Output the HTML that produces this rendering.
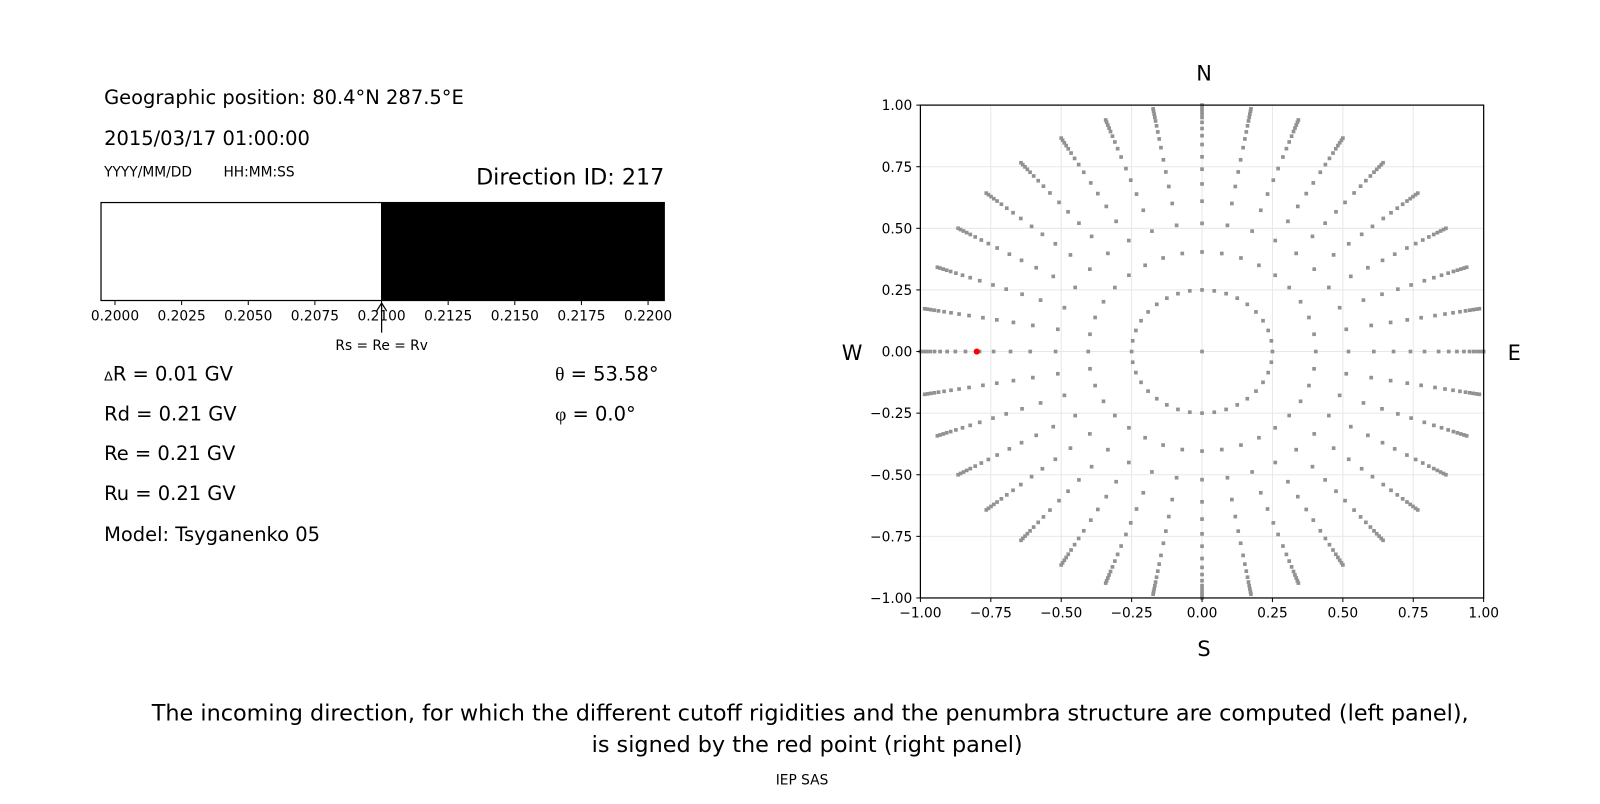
<!DOCTYPE html>
<html><head><meta charset="utf-8"><style>
body{margin:0;background:#fff;width:1600px;height:800px;overflow:hidden;font-family:"DejaVu Sans","Liberation Sans",sans-serif}
svg text{font-family:"DejaVu Sans","Liberation Sans",sans-serif}
</style></head><body>
<svg id="s" width="1600" height="800" xmlns="http://www.w3.org/2000/svg">
<rect width="1600" height="800" fill="#fff"/>
<g transform="scale(1.0204)">
<text x="102" y="102" font-size="19.1">Geographic position: 80.4°N 287.5°E</text>
<text x="102" y="142" font-size="19.1">2015/03/17 01:00:00</text>
<text x="102" y="173" font-size="13.5">YYYY/MM/DD</text>
<text x="219" y="173" font-size="13.5">HH:MM:SS</text>
<text x="651" y="181" font-size="21.8" text-anchor="end">Direction ID: 217</text>
<rect x="99" y="198.5" width="275" height="96" fill="#fff" stroke="#000" stroke-width="1.2"/>
<rect x="374" y="198.5" width="277" height="96" fill="#000" stroke="#000" stroke-width="1.2"/>
<g id="cbt" font-size="13.5" text-anchor="middle"></g>
<line x1="374" y1="297" x2="374" y2="326" stroke="#000" stroke-width="1.2"/>
<path d="M369,305 L374,297 L379,305" fill="none" stroke="#000" stroke-width="1.2"/>
<text x="374" y="343" font-size="13.5" text-anchor="middle">Rs = Re = Rv</text>
<text x="102" y="373" font-size="19.1"><tspan font-size="12.5">Δ</tspan>R = 0.01 GV</text>
<text x="102" y="412" font-size="19.1">Rd = 0.21 GV</text>
<text x="102" y="451" font-size="19.1">Re = 0.21 GV</text>
<text x="102" y="490" font-size="19.1">Ru = 0.21 GV</text>
<text x="102" y="530" font-size="19.1">Model: Tsyganenko 05</text>
<text x="544" y="373" font-size="19.1"><tspan font-family="Liberation Serif,serif">θ</tspan> = 53.58°</text>
<text x="544" y="412" font-size="19.1"><tspan font-family="Liberation Serif,serif">φ</tspan> = 0.0°</text>
<g id="grid"></g>
<g id="dots"></g>
<rect x="902" y="103" width="552" height="483" fill="none" stroke="#000" stroke-width="1.2"/>
<g id="ax" font-size="13.5"></g>
<text x="1180" y="79" font-size="20.5" text-anchor="middle">N</text>
<text x="1180" y="643" font-size="20.5" text-anchor="middle">S</text>
<text x="835" y="353" font-size="20.5" text-anchor="middle">W</text>
<text x="1484" y="353" font-size="20.5" text-anchor="middle">E</text>
<text x="794" y="706" font-size="21.9" text-anchor="middle">The incoming direction, for which the different cutoff rigidities and the penumbra structure are computed (left panel),</text>
<text x="791" y="737" font-size="21.9" text-anchor="middle">is signed by the red point (right panel)</text>
<text x="786" y="769" font-size="13.5" text-anchor="middle">IEP SAS</text>
</g>
</svg>
<script>
const NS="http://www.w3.org/2000/svg";
function el(p,t,a,txt){const e=document.createElementNS(NS,t);for(const k in a)e.setAttribute(k,a[k]);if(txt!==undefined)e.textContent=txt;document.getElementById(p).appendChild(e);}
for(let i=0;i<9;i++){const x=112.7+i*65.3;el('cbt','line',{x1:x,y1:294.5,x2:x,y2:299,stroke:'#000','stroke-width':1});el('cbt','text',{x:x,y:314},(0.2+i*0.0025).toFixed(4));}
const cx=1178,cy=344.5,sx=276,sy=241.5;
const X=v=>cx+v*sx,Y=v=>cy-v*sy;
const ticks=[-1,-0.75,-0.5,-0.25,0,0.25,0.5,0.75,1];
ticks.forEach(t=>{
 el('grid','line',{x1:X(t),y1:103,x2:X(t),y2:586,stroke:'#e8e8e8','stroke-width':1});
 el('grid','line',{x1:902,y1:Y(t),x2:1454,y2:Y(t),stroke:'#e8e8e8','stroke-width':1});
 el('ax','line',{x1:X(t),y1:586,x2:X(t),y2:590,stroke:'#000'});
 el('ax','line',{x1:898,y1:Y(t),x2:902,y2:Y(t),stroke:'#000'});
 el('ax','text',{x:X(t),y:605,'text-anchor':'middle'},t.toFixed(2).replace('-','−'));
 el('ax','text',{x:894,y:Y(t)+5,'text-anchor':'end'},t.toFixed(2).replace('-','−'));
});
const rs=[0.404,0.52,0.61,0.68,0.74,0.79,0.84,0.876,0.905,0.93,0.95,0.965,0.978,0.99,1.0];
function dot(x,y,c,r){el('dots','rect',{x:X(x)-(r||1.8),y:Y(y)-(r||1.8),width:2*(r||1.8),height:2*(r||1.8),fill:c||'#929292'});}
dot(0,0);
for(let a=0;a<360;a+=10){const t=a*Math.PI/180;dot(0.25*Math.cos(t),0.25*Math.sin(t));
 rs.forEach(r=>dot(r*Math.cos(t),r*Math.sin(t)));}
el('dots','circle',{cx:X(-0.8),cy:Y(0),r:3,fill:'red'});
</script>
</body></html>
